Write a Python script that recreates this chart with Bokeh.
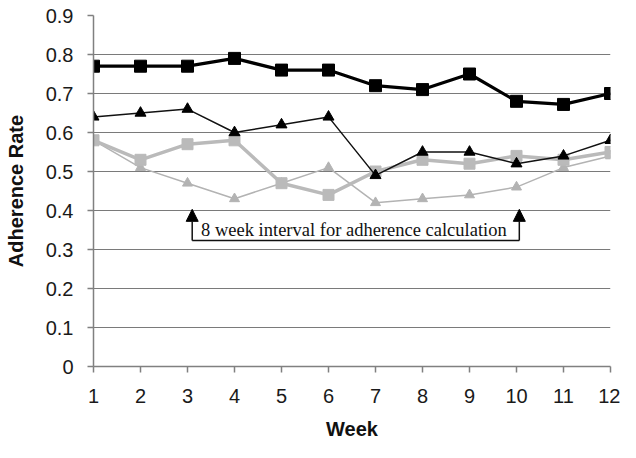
from bokeh.plotting import figure
from bokeh.models import FixedTicker, Arrow, NormalHead, Range1d
from bokeh.core.properties import value
from bokeh.embed import file_html
from bokeh.resources import INLINE

weeks = [1, 2, 3, 4, 5, 6, 7, 8, 9, 10, 11, 12]
black_squares = [0.77, 0.77, 0.77, 0.79, 0.76, 0.76, 0.72, 0.71, 0.75, 0.68, 0.672, 0.70]
black_triangles = [0.64, 0.65, 0.66, 0.60, 0.62, 0.64, 0.49, 0.55, 0.55, 0.52, 0.54, 0.58]
gray_squares = [0.58, 0.53, 0.57, 0.58, 0.47, 0.44, 0.50, 0.53, 0.52, 0.54, 0.53, 0.55]
gray_triangles = [0.58, 0.51, 0.47, 0.43, 0.47, 0.51, 0.42, 0.43, 0.44, 0.46, 0.51, 0.54]
y_ticks = [0, 0.1, 0.2, 0.3, 0.4, 0.5, 0.6, 0.7, 0.8, 0.9]
y_tick_labels = ["0", "0.1", "0.2", "0.3", "0.4", "0.5", "0.6", "0.7", "0.8", "0.9"]
note_text = "8 week interval for adherence calculation"
interval_start, interval_end = 3.1, 10.06

p = figure(width=620, height=442, output_backend="svg", toolbar_location=None,
           x_range=Range1d(1, 12), y_range=Range1d(0, 0.9),
           min_border_left=93, min_border_right=10, min_border_top=15, min_border_bottom=74)
p.outline_line_color = None
p.background_fill_color = "white"

# axes
p.xaxis.ticker = FixedTicker(ticks=weeks)
p.yaxis.ticker = FixedTicker(ticks=y_ticks)
p.yaxis.major_label_overrides = {t: l for t, l in zip(y_ticks, y_tick_labels)}
for ax in (p.xaxis[0], p.yaxis[0]):
    ax.axis_line_color = "#808080"
    ax.axis_line_width = 1.5
    ax.major_tick_line_color = "#808080"
    ax.major_tick_line_width = 1.5
    ax.major_tick_in = 0
    ax.major_tick_out = 6
    ax.minor_tick_line_color = None
    ax.major_label_text_font = "Liberation Sans"
    ax.major_label_text_font_size = "20px"
    ax.major_label_text_color = "#1a1a1a"
    ax.axis_label_text_font = "Liberation Sans"
    ax.axis_label_text_font_style = "bold"
    ax.axis_label_text_font_size = "20px"
    ax.axis_label_text_color = "#111111"
p.xaxis.axis_label = "Week"
p.yaxis.axis_label = "Adherence Rate"
p.xaxis.major_label_standoff = 16
p.yaxis.major_label_standoff = 14
p.xaxis.axis_label_standoff = 12
p.yaxis.axis_label_standoff = 16

p.xgrid.grid_line_color = None
p.ygrid.ticker = FixedTicker(ticks=y_ticks[1:-1])
p.ygrid.grid_line_color = "#7a7a7a"
p.ygrid.grid_line_width = 1

# series
p.line(weeks, gray_triangles, line_color="#b3b3b3", line_width=1.5)
p.scatter(weeks, gray_triangles, marker="triangle", size=10, fill_color="#b3b3b3", line_color="#b3b3b3")
p.line(weeks, gray_squares, line_color="#bababa", line_width=3.5)
p.scatter(weeks, gray_squares, marker="square", size=11, fill_color="#bababa", line_color="#bababa")
p.line(weeks, black_triangles, line_color="#111111", line_width=1.5)
p.scatter(weeks, black_triangles, marker="triangle", size=11, fill_color="#000000", line_color="#000000")
p.line(weeks, black_squares, line_color="#000000", line_width=3.2)
p.scatter(weeks, black_squares, marker="square", size=12, fill_color="#000000", line_color="#000000")

# interval bracket annotation
p.segment(x0=[interval_start], y0=[0.323], x1=[interval_end], y1=[0.323], line_color="#111111", line_width=1.5)
for xa in (interval_start, interval_end):
    p.add_layout(Arrow(end=NormalHead(size=12, fill_color="black", line_color="black"),
                       x_start=xa, y_start=0.323, x_end=xa, y_end=0.403,
                       line_color="#111111", line_width=1.5))
p.text(x=[(interval_start + interval_end) / 2 - 0.04], y=[0.350], text=[note_text],
       text_font=value("Liberation Serif"), text_font_size="18.5px",
       text_align="center", text_baseline="alphabetic", text_color="#111111")

open("out.html", "w").write(file_html(p, INLINE))
